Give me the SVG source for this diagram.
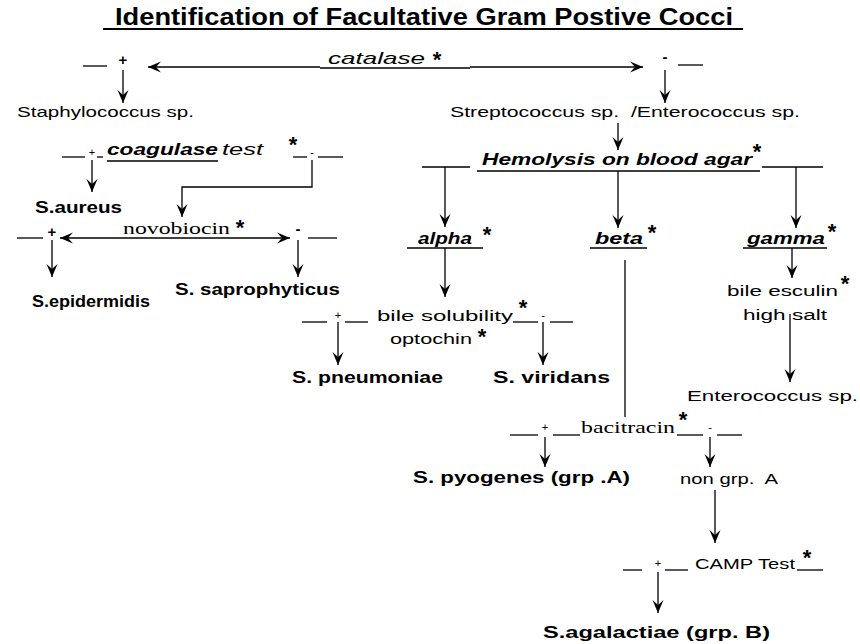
<svg xmlns="http://www.w3.org/2000/svg" width="860" height="644" viewBox="0 0 860 644">
<defs>
<marker id="ah" viewBox="-13 -6 13 12" refX="0" refY="0" markerWidth="13" markerHeight="12" markerUnits="userSpaceOnUse" orient="auto-start-reverse">
<path d="M0,0 L-13,-5.5 L-8,0 L-13,5.5 Z" fill="#000"/>
</marker>
<style>
text{font-family:"Liberation Sans",Arial,sans-serif;fill:#000}
.t{font-size:15.5px}
.b{font-size:17px;font-weight:bold}
.s{font-family:"Liberation Serif","Times New Roman",serif;font-size:17px}
.i{font-size:17px;font-style:italic}
.bi{font-size:17px;font-style:italic;font-weight:bold}
.ttl{font-size:23px;font-weight:bold}
.a{font-size:22px;font-weight:bold;text-anchor:middle}
.p{font-size:15px;font-weight:bold;text-anchor:middle}
.ps{font-size:11px;text-anchor:middle}
line,polyline{stroke:#000;stroke-width:1.3;fill:none}
.arr{marker-end:url(#ah)}
.dbl{marker-start:url(#ah);marker-end:url(#ah)}
</style>
</defs>
<rect width="860" height="644" fill="#fff"/>

<g id="title">
<text class="ttl" x="115" y="25" textLength="618" lengthAdjust="spacingAndGlyphs">Identification of Facultative Gram Postive Cocci</text>
<line x1="103" y1="29" x2="743" y2="29" style="stroke-width:2"/>
</g>

<g id="catalase">
<line x1="83" y1="66" x2="107" y2="66"/>
<text class="p" x="123" y="65">+</text>
<text class="i" x="328" y="64" textLength="97" lengthAdjust="spacingAndGlyphs">catalase</text>
<line x1="320" y1="68" x2="470" y2="68"/>
<text class="a" x="437" y="67">*</text>
<text class="p" x="665" y="62">-</text>
<line x1="678" y1="65" x2="703" y2="65"/>
</g>

<g id="staphylococcus">
<text class="t" x="17" y="117" textLength="177" lengthAdjust="spacingAndGlyphs">Staphylococcus sp.</text>
</g>

<g id="streptococcus">
<text class="t" x="450" y="117" textLength="350" lengthAdjust="spacingAndGlyphs" style="white-space:pre">Streptococcus sp.  /Enterococcus sp.</text>
</g>

<g id="coagulase">
<line x1="62" y1="157" x2="85" y2="157"/>
<text class="ps" x="92" y="156">+</text>
<line x1="97" y1="157" x2="103" y2="157"/>
<text class="bi" x="107" y="155" textLength="111" lengthAdjust="spacingAndGlyphs">coagulase</text>
<line x1="107" y1="161" x2="218" y2="161"/>
<text class="i" x="222" y="155" textLength="41" lengthAdjust="spacingAndGlyphs">test</text>
<text class="a" x="293" y="152">*</text>
<line x1="293" y1="157" x2="307" y2="157"/>
<text class="ps" x="312" y="156">-</text>
<line x1="318" y1="157" x2="343" y2="157"/>
</g>

<g id="s-aureus">
<text class="b" x="35" y="213" textLength="87" lengthAdjust="spacingAndGlyphs">S.aureus</text>
</g>

<g id="novobiocin">
<line x1="17" y1="238" x2="43" y2="238"/>
<text class="p" x="52" y="237">+</text>
<text class="s" x="123" y="234" textLength="107" lengthAdjust="spacingAndGlyphs">novobiocin</text>
<text class="a" x="240" y="235">*</text>
<text class="p" x="298" y="234">-</text>
<line x1="308" y1="238" x2="337" y2="238"/>
</g>

<g id="s-epidermidis">
<text class="b" x="32" y="307" textLength="118" lengthAdjust="spacingAndGlyphs">S.epidermidis</text>
</g>

<g id="s-saprophyticus">
<text class="b" x="175" y="295" textLength="165" lengthAdjust="spacingAndGlyphs">S. saprophyticus</text>
</g>

<g id="hemolysis">
<line x1="422" y1="167" x2="470" y2="167"/>
<text class="bi" x="482" y="165" textLength="270" lengthAdjust="spacingAndGlyphs">Hemolysis on blood agar</text>
<line x1="477" y1="171" x2="760" y2="171"/>
<text class="a" x="757" y="159">*</text>
<line x1="762" y1="167" x2="823" y2="167"/>
</g>

<g id="alpha">
<text class="bi" x="418" y="244" textLength="54" lengthAdjust="spacingAndGlyphs">alpha</text>
<line x1="407" y1="248" x2="483" y2="248"/>
<text class="a" x="487" y="242">*</text>
</g>

<g id="beta">
<text class="bi" x="595" y="244" textLength="48" lengthAdjust="spacingAndGlyphs">beta</text>
<line x1="590" y1="248" x2="647" y2="248"/>
<text class="a" x="652" y="240">*</text>
</g>

<g id="gamma">
<text class="bi" x="747" y="244" textLength="78" lengthAdjust="spacingAndGlyphs">gamma</text>
<line x1="743" y1="248" x2="827" y2="248"/>
<text class="a" x="832" y="239">*</text>
</g>

<g id="bile-esculin">
<text class="t" x="727" y="296" textLength="111" lengthAdjust="spacingAndGlyphs">bile esculin</text>
<text class="a" x="845" y="291">*</text>
<text class="t" x="743" y="320" textLength="84" lengthAdjust="spacingAndGlyphs">high salt</text>
</g>

<g id="enterococcus">
<text class="t" x="687" y="401" textLength="171" lengthAdjust="spacingAndGlyphs">Enterococcus sp.</text>
</g>

<g id="bile-solubility">
<line x1="302" y1="322" x2="327" y2="322"/>
<text class="ps" x="338" y="319">+</text>
<line x1="345" y1="322" x2="368" y2="322"/>
<text class="t" x="377" y="321" textLength="136" lengthAdjust="spacingAndGlyphs">bile solubility</text>
<text class="a" x="523" y="315">*</text>
<line x1="513" y1="322" x2="538" y2="322"/>
<text class="ps" x="543" y="319">-</text>
<line x1="550" y1="322" x2="573" y2="322"/>
<text class="t" x="390" y="344" textLength="82" lengthAdjust="spacingAndGlyphs">optochin</text>
<text class="a" x="482" y="344">*</text>
</g>

<g id="s-pneumoniae">
<text class="b" x="292" y="383" textLength="151" lengthAdjust="spacingAndGlyphs">S. pneumoniae</text>
</g>

<g id="s-viridans">
<text class="b" x="493" y="383" textLength="117" lengthAdjust="spacingAndGlyphs">S. viridans</text>
</g>

<g id="bacitracin">
<line x1="510" y1="435" x2="538" y2="435"/>
<text class="ps" x="545" y="431">+</text>
<line x1="553" y1="435" x2="580" y2="435"/>
<text class="s" x="581" y="433" textLength="94" lengthAdjust="spacingAndGlyphs">bacitracin</text>
<text class="a" x="683" y="427">*</text>
<line x1="677" y1="435" x2="703" y2="435"/>
<text class="ps" x="710" y="431">-</text>
<line x1="717" y1="435" x2="742" y2="435"/>
</g>

<g id="s-pyogenes">
<text class="b" x="413" y="483" textLength="217" lengthAdjust="spacingAndGlyphs">S. pyogenes (grp .A)</text>
</g>

<g id="non-grp-a">
<text class="t" x="680" y="484" textLength="98" lengthAdjust="spacingAndGlyphs" style="white-space:pre">non grp.  A</text>
</g>

<g id="camp">
<line x1="623" y1="570" x2="642" y2="570"/>
<text class="ps" x="658" y="567">+</text>
<line x1="665" y1="570" x2="688" y2="570"/>
<text class="t" x="695" y="569" textLength="100" lengthAdjust="spacingAndGlyphs">CAMP Test</text>
<text class="a" x="807" y="565">*</text>
<line x1="797" y1="570" x2="823" y2="570"/>
</g>

<g id="s-agalactiae">
<text class="b" x="543" y="638" textLength="227" lengthAdjust="spacingAndGlyphs">S.agalactiae (grp. B)</text>
</g>

<g id="connectors">
<line class="arr" x1="320" y1="67" x2="148" y2="67"/>
<line class="arr" x1="470" y1="67" x2="643" y2="67"/>
<line class="arr" x1="123" y1="70" x2="123" y2="103"/>
<line class="arr" x1="665" y1="70" x2="665" y2="103"/>
<line class="arr" x1="618" y1="123" x2="618" y2="150"/>
<line class="arr" x1="92" y1="160" x2="92" y2="192"/>
<polyline class="arr" points="312,160 312,187 182,187 182,217"/>
<line class="dbl" x1="60" y1="238" x2="290" y2="238"/>
<line class="arr" x1="52" y1="240" x2="52" y2="277"/>
<line class="arr" x1="298" y1="240" x2="298" y2="277"/>
<line class="arr" x1="445" y1="167" x2="445" y2="227"/>
<line class="arr" x1="618" y1="171" x2="618" y2="228"/>
<line class="arr" x1="796" y1="167" x2="796" y2="228"/>
<line class="arr" x1="445" y1="248" x2="445" y2="297"/>
<line class="arr" x1="792" y1="248" x2="792" y2="278"/>
<line x1="625" y1="260" x2="625" y2="417"/>
<line class="arr" x1="790" y1="314" x2="790" y2="382"/>
<line class="arr" x1="338" y1="322" x2="338" y2="365"/>
<line class="arr" x1="543" y1="322" x2="543" y2="365"/>
<line class="arr" x1="545" y1="437" x2="545" y2="467"/>
<line class="arr" x1="710" y1="437" x2="710" y2="467"/>
<line class="arr" x1="715" y1="490" x2="715" y2="543"/>
<line class="arr" x1="658" y1="572" x2="658" y2="613"/>
</g>
</svg>
